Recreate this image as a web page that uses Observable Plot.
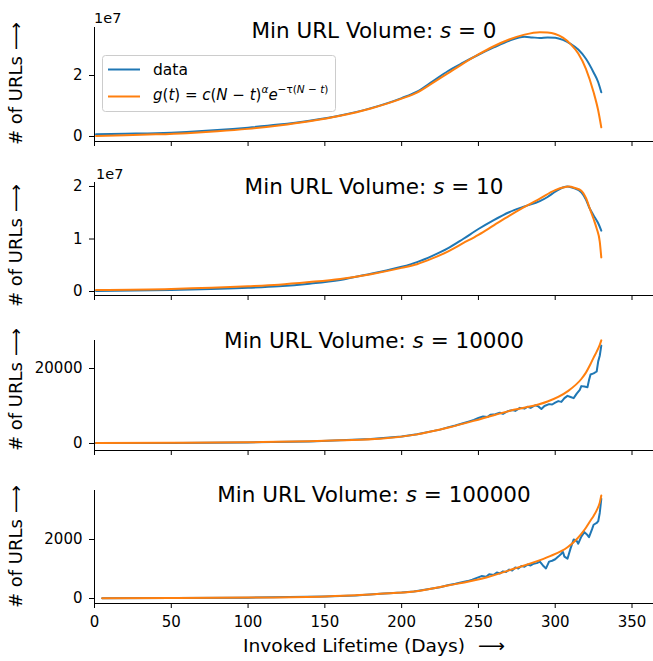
<!DOCTYPE html>
<html>
<head>
<meta charset="utf-8">
<script src="https://cdn.jsdelivr.net/npm/d3@7"></script>
<script src="https://cdn.jsdelivr.net/npm/@observablehq/plot@0.6"></script>
<style>
  body { margin: 0; background: #fff; }
  #wrap { position: relative; width: 653px; height: 661px; overflow: hidden; }
  #wrap svg { position: absolute; left: 0; }
</style>
</head>
<body>
<div id="wrap"></div>
<script>
// ---------------- data ----------------
const xTicks = [0, 50, 100, 150, 200, 250, 300, 350];

// s = 0  (values in units of 1e7)
const s0DataDays = [1, 20, 40, 60, 80, 100, 120, 140, 160, 180, 200, 210, 220, 230, 240, 250, 260, 270, 280, 285, 290, 295, 300, 305, 310, 315, 320, 325, 328, 330];
const s0DataVals = [0.07, 0.09, 0.11, 0.15, 0.21, 0.29, 0.39, 0.52, 0.69, 0.93, 1.26, 1.47, 1.80, 2.14, 2.42, 2.68, 2.92, 3.14, 3.27, 3.25, 3.23, 3.25, 3.24, 3.17, 3.04, 2.85, 2.55, 2.10, 1.78, 1.45];
const s0FitDays = [1, 20, 40, 60, 80, 100, 120, 140, 160, 180, 200, 210, 220, 230, 240, 250, 260, 270, 280, 290, 295, 300, 305, 310, 315, 320, 325, 328, 330];
const s0FitVals = [0.02, 0.04, 0.07, 0.11, 0.17, 0.25, 0.36, 0.50, 0.68, 0.92, 1.24, 1.44, 1.75, 2.07, 2.39, 2.69, 2.96, 3.18, 3.34, 3.42, 3.41, 3.36, 3.24, 3.03, 2.72, 2.22, 1.45, 0.85, 0.30];

// s = 10  (values in units of 1e7)
const s10DataDays = [1, 50, 100, 120, 140, 160, 180, 200, 210, 220, 230, 240, 250, 260, 270, 280, 290, 295, 300, 305, 308, 312, 317, 320, 322, 325, 328, 330];
const s10DataVals = [0.01, 0.03, 0.07, 0.10, 0.15, 0.22, 0.34, 0.47, 0.56, 0.68, 0.82, 1.00, 1.19, 1.36, 1.51, 1.62, 1.72, 1.80, 1.90, 1.98, 2.00, 1.97, 1.89, 1.75, 1.61, 1.45, 1.30, 1.16];
const s10FitDays = [1, 50, 100, 120, 140, 160, 180, 200, 210, 220, 230, 240, 250, 260, 270, 280, 290, 300, 305, 309, 313, 317, 320, 323, 325, 327, 329, 330];
const s10FitVals = [0.03, 0.05, 0.10, 0.13, 0.18, 0.24, 0.33, 0.45, 0.52, 0.63, 0.76, 0.92, 1.08, 1.26, 1.44, 1.61, 1.77, 1.93, 1.98, 2.00, 1.97, 1.92, 1.78, 1.54, 1.38, 1.20, 0.95, 0.65];

// s = 10000
const s10000DataDays = [1, 50, 100, 140, 180, 200, 210, 220, 225, 230, 235, 240, 244, 247, 250, 253, 256, 258, 261, 264, 266, 269, 272, 274, 277, 280, 282, 284, 287, 289, 291, 293, 296, 298, 300, 302, 304, 306, 308, 310, 312, 314, 316, 317, 319, 321, 322, 323, 325, 327, 328, 329, 330];
const s10000DataVals = [100, 130, 280, 560, 1200, 1850, 2450, 3300, 3700, 4300, 4800, 5400, 5900, 6300, 6800, 7200, 7100, 7700, 7800, 8200, 7900, 8600, 8900, 8700, 9500, 9300, 9800, 9500, 10200, 9900, 9200, 10000, 10500, 10400, 10900, 11300, 11100, 12100, 12700, 12400, 12100, 13300, 14300, 15300, 15200, 15000, 16900, 18400, 18700, 19200, 21900, 23400, 26100];
const s10000FitDays = [1, 50, 100, 140, 160, 186, 208, 230, 252, 273, 289, 295, 308, 317, 320, 323, 325, 327, 329, 330];
const s10000FitVals = [150, 200, 330, 600, 850, 1240, 2300, 4200, 6600, 9000, 10400, 11200, 13900, 17200, 18900, 21200, 22900, 24500, 26300, 27500];

// s = 100000
const s100000DataDays = [5, 50, 100, 150, 170, 186, 200, 208, 215, 220, 225, 230, 235, 240, 243, 246, 249, 252, 255, 257, 260, 262, 264, 266, 268, 270, 272, 274, 276, 278, 280, 282, 284, 286, 288, 290, 292, 294, 296, 298, 300, 302, 304, 305, 306, 308, 310, 312, 314, 315, 317, 319, 321, 322, 324, 325, 327, 328, 329, 330];
const s100000DataVals = [8, 15, 30, 65, 100, 160, 200, 240, 300, 340, 380, 450, 500, 560, 590, 640, 700, 760, 740, 820, 800, 880, 850, 920, 900, 980, 950, 1050, 1020, 1100, 1080, 1150, 1120, 1180, 1200, 1250, 1120, 1020, 1250, 1280, 1330, 1420, 1520, 1580, 1420, 1350, 1700, 2000, 1950, 1860, 2100, 2250, 2150, 2080, 2350, 2500, 2560, 2620, 2900, 3380];
const s100000FitDays = [5, 50, 100, 150, 170, 186, 208, 230, 252, 273, 295, 308, 313, 317, 320, 323, 325, 327, 329, 330];
const s100000FitVals = [8, 15, 32, 72, 110, 159, 237, 441, 668, 1007, 1400, 1739, 1960, 2193, 2400, 2644, 2800, 2990, 3250, 3492];

const panelTitles = ["0", "10", "10000", "100000"];

// ---------------- drawing ----------------
const BLUE = "#1f77b4", ORANGE = "#ff7f0e";
const W = 653, ML = 94, MR = 0;
const wrap = document.getElementById("wrap");

const zip = (d, v) => d.map((x, i) => ({x, y: v[i]}));

const panels = [
  {top: 0,   height: 160, mt: 27, mb: 19, yDomain: [-0.164, 3.574], yTicks: [0, 2], smooth: true, data: zip(s0DataDays, s0DataVals), fit: zip(s0FitDays, s0FitVals)},
  {top: 160, height: 160, mt: 22, mb: 25, yDomain: [-0.076, 2.076], yTicks: [0, 1, 2], smooth: true, data: zip(s10DataDays, s10DataVals), fit: zip(s10FitDays, s10FitVals)},
  {top: 320, height: 155, mt: 20, mb: 25, yDomain: [-1867, 27467], yTicks: [0, 20000], smooth: false, data: zip(s10000DataDays, s10000DataVals), fit: zip(s10000FitDays, s10000FitVals)},
  {top: 475, height: 186, mt: 15, mb: 58, yDomain: [-169, 3661], yTicks: [0, 2000], smooth: false, data: zip(s100000DataDays, s100000DataVals), fit: zip(s100000FitDays, s100000FitVals), labels: true}
];

panels.forEach(p => {
  const frameH = p.height - p.mt - p.mb;
  const marks = [
    Plot.line(p.data, {x: "x", y: "y", stroke: BLUE, strokeWidth: 2, curve: p.smooth ? "monotone-x" : "linear"}),
    Plot.line(p.fit, {x: "x", y: "y", stroke: ORANGE, strokeWidth: 2, curve: "monotone-x"}),
    Plot.ruleX([0], {stroke: "black", strokeWidth: 1}),
    Plot.ruleY([p.yDomain[0]], {stroke: "black", strokeWidth: 1}),
    Plot.axisY({ticks: p.yTicks, tickSize: 5, tickPadding: 7, label: null, fontSize: 15, tickFormat: d => String(d)})
  ];
  if (p.labels) {
    marks.push(Plot.axisX({ticks: xTicks, tickSize: 5, tickPadding: 8, label: null, fontSize: 15, tickFormat: d => String(d)}));
  } else {
    marks.push(Plot.tickX(xTicks, {x: d => d, insetTop: frameH, insetBottom: -5, stroke: "black"}));
  }
  const svg = Plot.plot({
    width: W, height: p.height,
    marginLeft: ML, marginRight: MR, marginTop: p.mt, marginBottom: p.mb,
    x: {domain: [0, 364], axis: null},
    y: {domain: p.yDomain, axis: null},
    style: {fontFamily: "DejaVu Sans", fontSize: "15px", color: "black", background: "transparent", overflow: "visible"},
    marks
  });
  svg.style.top = p.top + "px";
  wrap.appendChild(svg);
});

// ---------------- overlay text: titles, labels, legend ----------------
const ov = d3.select(wrap).append("svg")
  .attr("width", W).attr("height", 661)
  .style("top", "0px")
  .attr("font-family", "DejaVu Sans").attr("fill", "black");

const titleBaselines = [38, 194, 348, 502];
panelTitles.forEach((s, i) => {
  const t = ov.append("text").attr("x", 374).attr("y", titleBaselines[i])
    .attr("text-anchor", "middle").attr("font-size", 21.5);
  t.append("tspan").text("Min URL Volume: ");
  t.append("tspan").attr("font-style", "italic").text("s");
  t.append("tspan").text(" = " + s);
});

// y labels: "# of URLs" followed by a long arrow
const yLabelCenters = [84, 246, 390, 547];
yLabelCenters.forEach(cy => {
  const g = ov.append("g").attr("transform", `translate(22,${cy}) rotate(-90)`);
  g.append("text").attr("x", -61).attr("y", 0).attr("font-size", 18).text("# of URLs");
  g.append("text").attr("x", 34).attr("y", 0).attr("font-size", 18)
    .attr("textLength", 28).attr("lengthAdjust", "spacingAndGlyphs").text("⟶");
});

ov.append("text").attr("x", 243).attr("y", 652).attr("font-size", 18)
  .attr("textLength", 222).attr("lengthAdjust", "spacingAndGlyphs").text("Invoked Lifetime (Days)");
ov.append("text").attr("x", 478).attr("y", 652).attr("font-size", 18)
  .attr("textLength", 27).attr("lengthAdjust", "spacingAndGlyphs").text("⟶");

// offset text for 1e7 scale
ov.append("text").attr("x", 94).attr("y", 23).attr("font-size", 14.5).text("1e7");
ov.append("text").attr("x", 96).attr("y", 179).attr("font-size", 14.5).text("1e7");

// legend
const lg = ov.append("g");
lg.append("rect").attr("x", 102.5).attr("y", 55.5).attr("width", 233).attr("height", 56)
  .attr("rx", 3).attr("fill", "white").attr("fill-opacity", 0.8).attr("stroke", "#cccccc");
lg.append("line").attr("x1", 108).attr("x2", 140).attr("y1", 69.5).attr("y2", 69.5).attr("stroke", BLUE).attr("stroke-width", 2);
lg.append("line").attr("x1", 108).attr("x2", 140).attr("y1", 96.5).attr("y2", 96.5).attr("stroke", ORANGE).attr("stroke-width", 2);
lg.append("text").attr("x", 153).attr("y", 75).attr("font-size", 15.5).text("data");
const fb = 100, fs = 15, sup = fb - 7;
const ft = lg.append("text").attr("x", 153).attr("y", fb).attr("font-size", fs);
const parts = [
  ["g", 1, 0], ["(", 0, 0], ["t", 1, 0], [") = ", 0, 0], ["c", 1, 0], ["(", 0, 0], ["N", 1, 0], [" − ", 0, 0], ["t", 1, 0], [")", 0, 0],
  ["α", 1, 1], ["e", 1, 0], ["−τ(", 0, 1], ["N", 1, 1], [" − ", 0, 1], ["t", 1, 1], [")", 0, 1]
];
parts.forEach(([txt, it, sp]) => {
  const ts = ft.append("tspan").attr("y", sp ? sup : fb).text(txt);
  if (it) ts.attr("font-style", "italic");
  if (sp) ts.attr("font-size", 10.5);
});
</script>
</body>
</html>
